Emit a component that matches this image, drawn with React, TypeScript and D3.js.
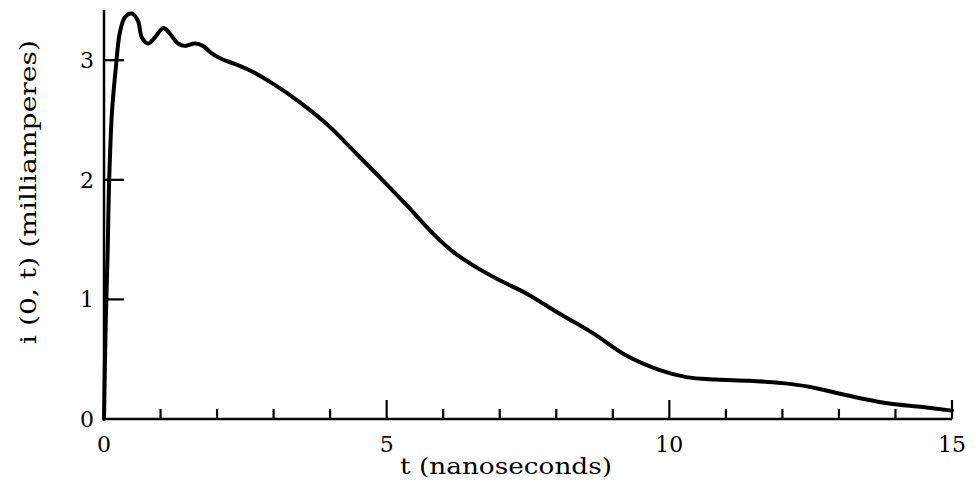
import React from "react";
import * as d3 from "d3";

const timeNs = [
  0, 0.03, 0.065, 0.09, 0.14, 0.21, 0.28, 0.37, 0.49, 0.6, 0.67, 0.78, 0.9, 1.05, 1.17, 1.31, 1.43,
  1.61, 1.75, 1.9, 2.08, 2.31, 2.6, 3.0, 3.46, 3.93, 4.4, 4.88, 5.35, 5.82, 6.17, 6.58, 7.0, 7.47,
  8.06, 8.64, 9.24, 9.82, 10.3, 10.83, 11.41, 12.0, 12.47, 12.94, 13.42, 13.89, 14.48, 15.0,
];
const currentMA = [
  0, 0.8, 1.41, 1.97, 2.56, 2.94, 3.23, 3.36, 3.39, 3.33, 3.19, 3.14, 3.19, 3.27, 3.22, 3.14, 3.12,
  3.14, 3.12, 3.06, 3.01, 2.97, 2.91, 2.8, 2.65, 2.47, 2.25, 2.02, 1.79, 1.55, 1.4, 1.27, 1.16, 1.05,
  0.88, 0.72, 0.53, 0.41, 0.35, 0.33, 0.32, 0.3, 0.27, 0.22, 0.17, 0.13, 0.1, 0.07,
];
const xMajorTicks = [0, 5, 10, 15];
const xMinorTicks = [1, 2, 3, 4, 6, 7, 8, 9, 11, 12, 13, 14];
const yTicks = [0, 1, 2, 3];
const xTitle = "t (nanoseconds)";
const yTitle = "i (0, t) (milliamperes)";

export default function App() {
  const W = 976;
  const H = 498;
  const x = d3.scaleLinear().domain([0, 15]).range([104, 952]);
  const y = d3.scaleLinear().domain([0, 3.42]).range([419, 10]);
  const data = timeNs.map((t, i) => [t, currentMA[i]] as [number, number]);
  const line = d3
    .line<[number, number]>()
    .x((d) => x(d[0]))
    .y((d) => y(d[1]))
    .curve(d3.curveCatmullRom.alpha(0.5));
  const font = "'DejaVu Serif', serif";
  return (
    <svg
      width={W}
      height={H}
      style={{ position: "absolute", left: 0, top: 0, background: "#fff" }}
    >
      <rect width={W} height={H} fill="#fff" />
      {/* axes */}
      <line x1={x(0)} x2={x(15)} y1={y(0)} y2={y(0)} stroke="#000" strokeWidth={2.5} />
      <line x1={x(0)} x2={x(0)} y1={y(0) + 1} y2={y(3.42)} stroke="#000" strokeWidth={2.5} />
      {xMajorTicks.map((t) => (
        <line key={"M" + t} x1={x(t)} x2={x(t)} y1={y(0)} y2={y(0) - 19} stroke="#000" strokeWidth={2.2} />
      ))}
      {xMinorTicks.map((t) => (
        <line key={"m" + t} x1={x(t)} x2={x(t)} y1={y(0)} y2={y(0) - 10} stroke="#000" strokeWidth={2.2} />
      ))}
      {yTicks
        .filter((v) => v > 0)
        .map((v) => (
          <line key={"y" + v} x1={x(0)} x2={x(0) + 20} y1={y(v)} y2={y(v)} stroke="#000" strokeWidth={2.2} />
        ))}
      {xMajorTicks.map((t) => (
        <text
          key={"xl" + t}
          x={x(t)}
          y={452}
          textAnchor="middle"
          fontFamily={font}
          fontSize={22}
          fill="#000"
        >
          {t}
        </text>
      ))}
      {yTicks.map((v) => (
        <text
          key={"yl" + v}
          x={94}
          y={y(v)}
          dy="0.36em"
          textAnchor="end"
          fontFamily={font}
          fontSize={22}
          fill="#000"
        >
          {v}
        </text>
      ))}
      <text
        x={506}
        y={474}
        textAnchor="middle"
        fontFamily={font}
        fontSize={22}
        textLength={212}
        lengthAdjust="spacingAndGlyphs"
        fill="#000"
      >
        {xTitle}
      </text>
      <text
        transform={`translate(36, 192) rotate(-90)`}
        textAnchor="middle"
        fontFamily={font}
        fontSize={22}
        textLength={304}
        lengthAdjust="spacingAndGlyphs"
        fill="#000"
      >
        {yTitle}
      </text>
      <path d={line(data) || ""} fill="none" stroke="#000" strokeWidth={4} strokeLinejoin="round" strokeLinecap="round" />
    </svg>
  );
}
